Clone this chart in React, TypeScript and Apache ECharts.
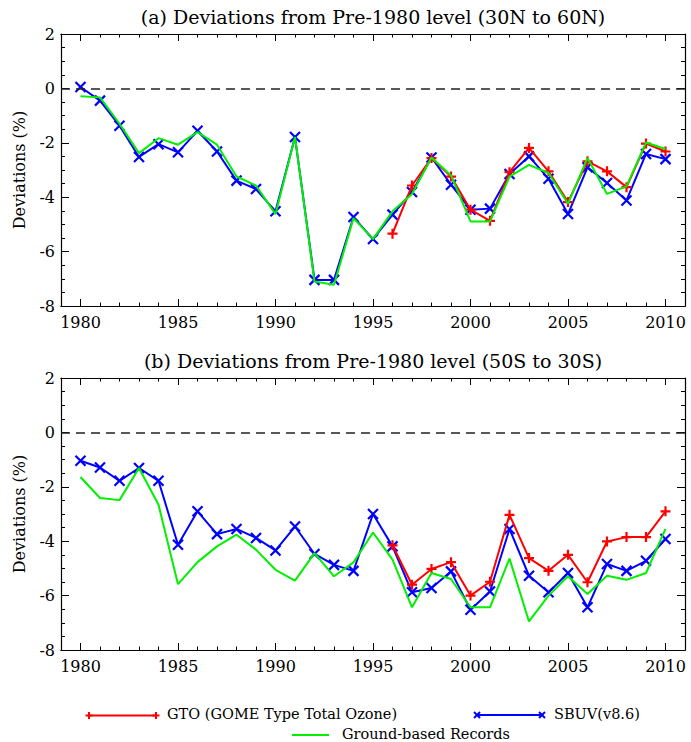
import React, { useEffect, useRef } from 'react';
import * as echarts from 'echarts';

// ---------- data ----------
const years = [1980, 1981, 1982, 1983, 1984, 1985, 1986, 1987, 1988, 1989, 1990, 1991, 1992, 1993, 1994, 1995, 1996, 1997, 1998, 1999, 2000, 2001, 2002, 2003, 2004, 2005, 2006, 2007, 2008, 2009, 2010];
const gtoYears = [1996, 1997, 1998, 1999, 2000, 2001, 2002, 2003, 2004, 2005, 2006, 2007, 2008, 2009, 2010];
const majorYears = [1980, 1985, 1990, 1995, 2000, 2005, 2010];

// Panel (a) 30N to 60N
const sbuvA = [0.05, -0.45, -1.37, -2.52, -2.05, -2.35, -1.56, -2.32, -3.39, -3.70, -4.52, -1.79, -7.04, -7.04, -4.73, -5.54, -4.64, -3.81, -2.54, -3.54, -4.46, -4.42, -3.15, -2.50, -3.32, -4.62, -2.90, -3.48, -4.12, -2.41, -2.60];
const gtoA = [-5.34, -3.57, -2.56, -3.24, -4.46, -4.87, -3.08, -2.19, -3.05, -4.18, -2.68, -3.05, -3.63, -2.03, -2.32];
const groundA = [-0.29, -0.33, -1.30, -2.38, -1.83, -2.07, -1.61, -2.07, -3.24, -3.57, -4.62, -1.79, -7.10, -7.22, -4.77, -5.54, -4.52, -3.88, -2.54, -3.20, -4.89, -4.89, -3.24, -2.81, -3.11, -4.24, -2.56, -3.88, -3.60, -1.99, -2.23];

// Panel (b) 50S to 30S
const sbuvB = [-1.04, -1.29, -1.78, -1.31, -1.78, -4.13, -2.90, -3.74, -3.55, -3.88, -4.34, -3.46, -4.47, -4.87, -5.09, -3.00, -4.19, -5.88, -5.72, -5.11, -6.52, -5.85, -3.55, -5.27, -5.88, -5.17, -6.43, -4.84, -5.09, -4.72, -3.92];
const gtoB = [-4.15, -5.60, -5.02, -4.77, -6.00, -5.49, -3.03, -4.62, -5.09, -4.50, -5.51, -4.01, -3.85, -3.85, -2.90];
const groundB = [-1.64, -2.41, -2.49, -1.31, -2.66, -5.58, -4.77, -4.19, -3.76, -4.31, -5.05, -5.45, -4.44, -5.29, -4.78, -3.68, -4.68, -6.43, -5.17, -5.39, -6.43, -6.43, -4.64, -6.95, -6.00, -5.29, -5.94, -5.27, -5.42, -5.17, -3.55];

const titles = [
  '(a) Deviations from Pre-1980 level (30N to 60N)',
  '(b) Deviations from Pre-1980 level (50S to 30S)',
];
const yName = 'Deviations (%)';
const legendNames = ['GTO (GOME Type Total Ozone)', 'SBUV(v8.6)', 'Ground-based Records'];

// ---------- styles ----------
const SERIF = '"DejaVu Serif", serif';
const RED = '#ff0000';
const BLUE = '#0000ff';
const GREEN = '#00f000';
const PLUS = 'path://M5,0L5,10M0,5L10,5';
const CROSS = 'path://M0,0L10,10M10,0L0,10';

const GRID_LEFT = 61;
const GRID_W = 624;
const GRID_H = 272;
const GRID_TOPS = [34, 378];

function pairs(xs: number[], ys: number[]) {
  return xs.map((x, i) => [x, ys[i]]);
}

function makeXAxes(g: number) {
  const base: any = {
    type: 'value',
    gridIndex: g,
    min: 1979,
    max: 2011,
    interval: 1,
    splitLine: { show: false },
    axisLine: { show: true, onZero: false, lineStyle: { color: '#000', width: 1.2 } },
  };
  const major = { show: true, inside: true, length: 7, customValues: majorYears, lineStyle: { color: '#000', width: 1 } };
  const minor = { show: true, inside: true, length: 3.5, lineStyle: { color: '#000', width: 1 } };
  return [
    {
      ...base,
      position: 'bottom',
      axisTick: major,
      axisLabel: {
        show: true,
        customValues: majorYears,
        formatter: (v: number) => String(v),
        fontFamily: SERIF,
        fontSize: 16,
        color: '#000',
        margin: 8,
      },
    },
    { ...base, position: 'bottom', axisTick: minor, axisLabel: { show: false } },
    { ...base, position: 'top', axisTick: major, axisLabel: { show: false } },
    { ...base, position: 'top', axisTick: minor, axisLabel: { show: false } },
  ];
}

function makeYAxes(g: number) {
  const base: any = {
    type: 'value',
    gridIndex: g,
    min: -8,
    max: 2,
    interval: 2,
    splitLine: { show: false },
    axisLine: { show: true, onZero: false, lineStyle: { color: '#000', width: 1.2 } },
    axisTick: { show: true, inside: true, length: 8, lineStyle: { color: '#000', width: 1 } },
    minorTick: { show: true, splitNumber: 4, length: 4, lineStyle: { color: '#000', width: 1 } },
    minorSplitLine: { show: false },
  };
  return [
    {
      ...base,
      position: 'left',
      name: yName,
      nameLocation: 'middle',
      nameGap: 34,
      nameTextStyle: { fontFamily: SERIF, fontSize: 16, color: '#000' },
      axisLabel: { show: true, fontFamily: SERIF, fontSize: 16, color: '#000', margin: 6 },
    },
    { ...base, position: 'right', axisLabel: { show: false } },
  ];
}

function makeSeries(g: number, sbuv: number[], gto: number[], ground: number[]) {
  const xi = g * 4;
  const yi = g * 2;
  return [
    {
      type: 'line',
      name: 'SBUV',
      xAxisIndex: xi,
      yAxisIndex: yi,
      data: pairs(years, sbuv),
      symbol: CROSS,
      symbolSize: 10,
      lineStyle: { color: BLUE, width: 2 },
      itemStyle: { color: 'transparent', borderColor: BLUE, borderWidth: 2.2 },
      z: 3,
      markLine: {
        silent: true,
        symbol: ['none', 'none'],
        label: { show: false },
        lineStyle: { color: '#222', width: 1.5, type: [9, 6] },
        data: [{ yAxis: 0 }],
      },
    },
    {
      type: 'line',
      name: 'GTO',
      xAxisIndex: xi,
      yAxisIndex: yi,
      data: pairs(gtoYears, gto),
      symbol: PLUS,
      symbolSize: 10,
      lineStyle: { color: RED, width: 2 },
      itemStyle: { color: 'transparent', borderColor: RED, borderWidth: 2.2 },
      z: 4,
    },
    {
      type: 'line',
      name: 'Ground',
      xAxisIndex: xi,
      yAxisIndex: yi,
      data: pairs(years, ground),
      symbol: 'none',
      lineStyle: { color: GREEN, width: 2 },
      z: 5,
    },
  ];
}

function legendGraphics() {
  const els: any[] = [];
  const seg = (x1: number, x2: number, y: number, color: string) =>
    els.push({ type: 'line', shape: { x1, y1: y, x2, y2: y }, style: { stroke: color, lineWidth: 2 } });
  const plus = (x: number, y: number, color: string) => {
    els.push({ type: 'line', shape: { x1: x - 3.5, y1: y, x2: x + 3.5, y2: y }, style: { stroke: color, lineWidth: 2 } });
    els.push({ type: 'line', shape: { x1: x, y1: y - 3.5, x2: x, y2: y + 3.5 }, style: { stroke: color, lineWidth: 2 } });
  };
  const cross = (x: number, y: number, color: string) => {
    els.push({ type: 'line', shape: { x1: x - 3, y1: y - 3, x2: x + 3, y2: y + 3 }, style: { stroke: color, lineWidth: 2 } });
    els.push({ type: 'line', shape: { x1: x - 3, y1: y + 3, x2: x + 3, y2: y - 3 }, style: { stroke: color, lineWidth: 2 } });
  };
  const txt = (x: number, y: number, s: string) =>
    els.push({
      type: 'text',
      x,
      y,
      style: { text: s, fontFamily: SERIF, fontSize: 14.5, fill: '#000', textAlign: 'left', textVerticalAlign: 'middle' },
    });
  seg(89, 156, 715.5, RED);
  plus(89, 715.5, RED);
  plus(156, 715.5, RED);
  txt(167, 714, legendNames[0]);
  seg(477, 542, 715, BLUE);
  cross(477, 715, BLUE);
  cross(542, 715, BLUE);
  txt(554, 714, legendNames[1]);
  seg(292, 329, 735, GREEN);
  txt(342, 734, legendNames[2]);
  return els;
}

export default function App() {
  const ref = useRef<HTMLDivElement>(null);
  useEffect(() => {
    document.body.style.margin = '0';
    const chart = echarts.init(ref.current!, null, { renderer: 'svg' });
    const option: any = {
      animation: false,
      backgroundColor: '#fff',
      grid: GRID_TOPS.map((top) => ({ left: GRID_LEFT, top, width: GRID_W, height: GRID_H, containLabel: false })),
      xAxis: [...makeXAxes(0), ...makeXAxes(1)],
      yAxis: [...makeYAxes(0), ...makeYAxes(1)],
      series: [...makeSeries(0, sbuvA, gtoA, groundA), ...makeSeries(1, sbuvB, gtoB, groundB)],
      graphic: [
        ...titles.map((t, i) => ({
          type: 'text',
          x: GRID_LEFT + GRID_W / 2,
          y: GRID_TOPS[i] - 17,
          style: { text: t, fontFamily: SERIF, fontSize: 19, fill: '#000', textAlign: 'center', textVerticalAlign: 'middle' },
        })),
        ...legendGraphics(),
      ],
    };
    chart.setOption(option);
    return () => chart.dispose();
  }, []);
  return <div ref={ref} style={{ width: 691, height: 742 }} />;
}
